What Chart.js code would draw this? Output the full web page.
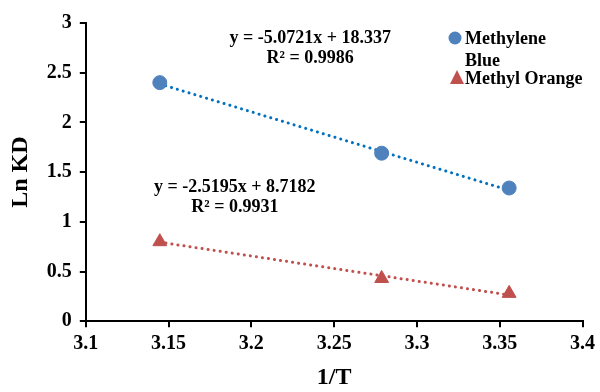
<!DOCTYPE html>
<html>
<head>
<meta charset="utf-8">
<script src="https://cdn.jsdelivr.net/npm/chart.js@4"></script>
<style>
  body { margin: 0; background: #fff; }
</style>
</head>
<body>
<canvas id="chart" width="600" height="392"></canvas>
<script>
const invT = [3.1447, 3.2787, 3.3557];
const mbLnKD = [2.40, 1.69, 1.34];
const moLnKD = [0.80, 0.43, 0.28];
// trendline coefficients as printed on the chart: [slope, intercept]
const mbFit = [-5.0721, 18.337];
const moFit = [-2.5195, 8.7182];
const xTicks = [3.1, 3.15, 3.2, 3.25, 3.3, 3.35, 3.4];

const FONT = "'Liberation Serif', 'Times New Roman', serif";

function pts(ys) {
  return invT.map((x, i) => ({ x: x, y: ys[i] }));
}
function fitLine(c) {
  const a = invT[0], b = invT[invT.length - 1];
  return [{ x: a, y: c[0] * a + c[1] }, { x: b, y: c[0] * b + c[1] }];
}

const labelsPlugin = {
  id: "labels",
  afterDraw(chart) {
    const ctx = chart.ctx;
    const xs = chart.scales.x, ys = chart.scales.y;
    ctx.save();
    ctx.fillStyle = "#000";
    ctx.font = "bold 18px " + FONT;
    ctx.textAlign = "center";
    ctx.textBaseline = "alphabetic";
    ctx.fillText("y = -5.0721x + 18.337", xs.getPixelForValue(3.2355), ys.getPixelForValue(2.8));
    ctx.fillText("R² = 0.9986", xs.getPixelForValue(3.2355), ys.getPixelForValue(2.6));
    ctx.fillText("y = -2.5195x + 8.7182", xs.getPixelForValue(3.190), ys.getPixelForValue(1.30));
    ctx.fillText("R² = 0.9931", xs.getPixelForValue(3.190), ys.getPixelForValue(1.10));

    // legend
    ctx.textAlign = "left";
    ctx.fillStyle = "#4f81bd";
    ctx.beginPath();
    ctx.arc(455, 38, 6.5, 0, Math.PI * 2);
    ctx.fill();
    ctx.fillStyle = "#c0504d";
    ctx.beginPath();
    ctx.moveTo(457, 70);
    ctx.lineTo(464, 84);
    ctx.lineTo(450, 84);
    ctx.closePath();
    ctx.fill();
    ctx.fillStyle = "#000";
    ctx.fillText("Methylene", 465, 44);
    ctx.fillText("Blue", 465, 66);
    ctx.fillText("Methyl Orange", 465, 84);
    ctx.restore();
  }
};

new Chart(document.getElementById("chart"), {
  type: "scatter",
  data: {
    datasets: [
      {
        label: "Methylene Blue",
        data: pts(mbLnKD),
        backgroundColor: "#4f81bd",
        borderColor: "#4f81bd",
        pointRadius: 7,
        pointStyle: "circle",
      },
      {
        label: "Methyl Orange",
        data: pts(moLnKD),
        backgroundColor: "#c0504d",
        borderColor: "#c0504d",
        pointRadius: 8,
        pointStyle: "triangle",
      },
      {
        label: "fit1",
        data: fitLine(mbFit),
        showLine: true,
        borderColor: "#0070c0",
        borderWidth: 3,
        borderDash: [0.1, 6],
        borderCapStyle: "round",
        pointRadius: 0,
      },
      {
        label: "fit2",
        data: fitLine(moFit),
        showLine: true,
        borderColor: "#c0504d",
        borderWidth: 3,
        borderDash: [0.1, 6],
        borderCapStyle: "round",
        pointRadius: 0,
      },
    ],
  },
  options: {
    responsive: false,
    animation: false,
    layout: { padding: { left: 6, right: 0, top: 23, bottom: 0 } },
    plugins: {
      legend: { display: false },
      tooltip: { enabled: false },
    },
    scales: {
      x: {
        type: "linear",
        min: 3.1,
        max: 3.4,
        afterBuildTicks: (axis) => {
          axis.ticks = xTicks.map((v) => ({ value: v }));
        },
        ticks: {
          color: "#000",
          font: { family: FONT, size: 20, weight: "bold" },
          padding: 5,
          callback: (v) => String(parseFloat(v.toFixed(2))),
        },
        grid: { drawOnChartArea: false, drawTicks: true, tickLength: 6, color: "#000", lineWidth: 2 },
        border: { display: true, color: "#000", width: 2 },
        title: {
          display: true,
          text: "1/T",
          color: "#000",
          font: { family: FONT, size: 24, weight: "bold" },
          padding: { top: 2, bottom: 0 },
        },
      },
      y: {
        min: 0,
        max: 3,
        ticks: {
          stepSize: 0.5,
          color: "#000",
          font: { family: FONT, size: 20, weight: "bold" },
          padding: 8,
          callback: (v) => String(v),
        },
        grid: { drawOnChartArea: false, drawTicks: true, tickLength: 6, color: "#000", lineWidth: 2 },
        border: { display: true, color: "#000", width: 2 },
        title: {
          display: true,
          text: "Ln KD",
          color: "#000",
          font: { family: FONT, size: 24, weight: "bold" },
          padding: { top: 0, bottom: 4 },
        },
      },
    },
  },
  plugins: [labelsPlugin],
});
</script>
</body>
</html>
